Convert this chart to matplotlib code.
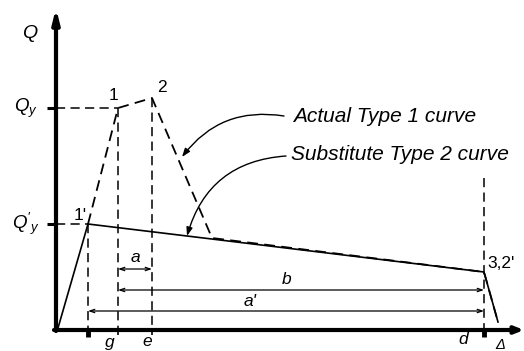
import matplotlib
matplotlib.use("Agg")
import matplotlib.pyplot as plt

plt.rcParams['font.family'] = ['Liberation Sans', 'DejaVu Sans']
plt.rcParams['mathtext.fontset'] = 'custom'
plt.rcParams['mathtext.it'] = 'Liberation Sans:italic'
plt.rcParams['mathtext.rm'] = 'Liberation Sans'

# Key points (displacement, force)
sub_x = [2, 32, 428, 442]          # substitute Type 2 curve: origin, 1', 3/2', end
sub_y = [2, 106, 58, 8]
act_x = [32, 62, 96, 156, 428, 442]  # actual Type 1 curve (dashed part): 1', 1, 2, join, 3, end
act_y = [106, 222, 232, 92, 58, 8]
Qy = 222
Qy_p = 106
x_1p, x_g, x_e, x_d = 32, 62, 96, 428
y_d_top = 152
dim_a_y, dim_b_y, dim_ap_y = 61, 40, 19

fig = plt.figure(figsize=(5.24, 3.51), dpi=100)
ax = fig.add_axes([0, 0, 1, 1])
ax.set_xlim(-56, 468)
ax.set_ylim(-21, 330)
ax.axis('off')

k = 'black'
dash = (0, (6, 3.5))
# axes
ax.annotate('', xy=(0, 322), xytext=(0, -1),
            arrowprops=dict(arrowstyle='-|>,head_length=0.8,head_width=0.2', lw=3, color=k,
                            shrinkA=0, shrinkB=0))
ax.annotate('', xy=(468, 0), xytext=(-2, 0),
            arrowprops=dict(arrowstyle='->,head_length=0.5,head_width=0.2', lw=3, color=k,
                            shrinkA=0, shrinkB=0))
# Qy ticks
for yy in (Qy, Qy_p):
    ax.plot([-9, 0], [yy, yy], color=k, lw=2.2, solid_capstyle='butt')
# tick marks below x-axis
for xx, lw, ln in ((x_1p, 3.5, 7), (x_g, 1.2, 5), (x_e, 1.2, 5), (x_d, 3.5, 7)):
    ax.plot([xx, xx], [0, -ln], color=k, lw=lw, solid_capstyle='butt')

# horizontal dashed
ax.plot([0, act_x[1]], [Qy, Qy], color=k, lw=1.1, linestyle=dash)
ax.plot([0, x_1p], [Qy_p, Qy_p], color=k, lw=1.1, linestyle=dash)
# vertical dashed
ax.plot([x_1p, x_1p], [Qy_p, 0], color=k, lw=1.1, linestyle=dash)
ax.plot([x_g, x_g], [Qy, 0], color=k, lw=1.1, linestyle=dash)
ax.plot([x_e, x_e], [act_y[2], 0], color=k, lw=1.1, linestyle=dash)
ax.plot([x_d, x_d], [y_d_top, 0], color=k, lw=1.1, linestyle=dash)

# curves
ax.plot(sub_x, sub_y, color=k, lw=1.2)
ax.plot(act_x, act_y, color=k, lw=1.3, linestyle=dash)

# dimension lines
ap = dict(arrowstyle='<->,head_length=0.35,head_width=0.12', lw=0.9, color=k, shrinkA=0, shrinkB=0)
ax.annotate('', xy=(x_e, dim_a_y), xytext=(x_g, dim_a_y), arrowprops=ap)
ax.annotate('', xy=(x_d, dim_b_y), xytext=(x_g, dim_b_y), arrowprops=ap)
ax.annotate('', xy=(x_d, dim_ap_y), xytext=(x_1p, dim_ap_y), arrowprops=ap)

fs = 12.5
ax.text(-26, 297, 'Q', fontsize=fs + 1.5, ha='center', va='center', style='italic')
ax.text(-30, 222, '$Q_y$', fontsize=fs + 1, ha='center', va='center')
ax.text(-30, 106, "$Q'_y$", fontsize=fs + 1, ha='center', va='center')
ax.text(57, 234, '1', fontsize=fs, ha='center', va='center')
ax.text(106, 243, '2', fontsize=fs, ha='center', va='center')
ax.text(24, 115, "1'", fontsize=fs, ha='center', va='center')
ax.text(431, 67, "3,2'", fontsize=fs, ha='left', va='center')
ax.text(79, 72, 'a', fontsize=fs, ha='center', va='center', style='italic')
ax.text(231, 50, 'b', fontsize=fs, ha='center', va='center', style='italic')
ax.text(194, 28, "a'", fontsize=fs, ha='center', va='center', style='italic')
ax.text(54, -12, 'g', fontsize=fs, ha='center', va='center', style='italic')
ax.text(91, -12, 'e', fontsize=fs, ha='center', va='center', style='italic')
ax.text(407, -10, 'd', fontsize=fs, ha='center', va='center', style='italic')
ax.text(444, -15, 'Δ', fontsize=fs - 2, ha='center', va='center', style='italic')

ax.text(237, 213, 'Actual Type 1 curve', fontsize=15, ha='left', va='center', style='italic')
ax.text(235, 175, 'Substitute Type 2 curve', fontsize=15, ha='left', va='center', style='italic')
ax.annotate('', xy=(126, 173), xytext=(228, 214),
            arrowprops=dict(arrowstyle='-|>,head_length=0.5,head_width=0.18', lw=1.0, color=k,
                            connectionstyle='arc3,rad=0.3', shrinkA=0, shrinkB=0))
ax.annotate('', xy=(131, 94), xytext=(230, 174),
            arrowprops=dict(arrowstyle='-|>,head_length=0.5,head_width=0.18', lw=1.0, color=k,
                            connectionstyle='arc3,rad=0.35', shrinkA=0, shrinkB=0))

fig.savefig('out.png', dpi=100)
